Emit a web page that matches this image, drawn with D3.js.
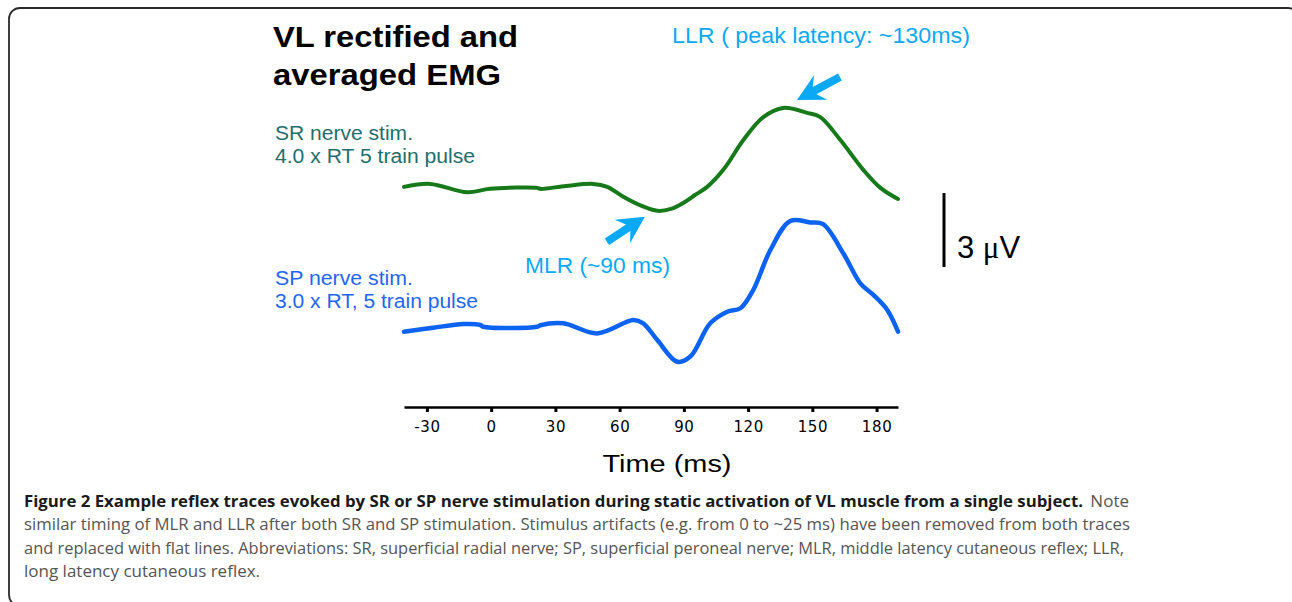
<!DOCTYPE html>
<html>
<head>
<meta charset="utf-8">
<script src="https://cdn.jsdelivr.net/npm/d3@7"></script>
<style>
  body { margin: 0; background: #fff; }
</style>
</head>
<body>
<div id="chart"></div>
<script>
// SR nerve stim. trace (green), time in ms, amplitude in uV above its own baseline
const srTime = [-40.7, -28.5, -11.2, -0.5, 21.5, 23, 35, 47.7, 54.2, 61.7, 70, 77.6, 84, 89.7, 95, 100.9, 108.4, 117.8, 127.1, 136.4, 147.7, 153.7, 163.1, 173.8, 181.8, 190];
const srAmp  = [0.04, 0.16, -0.18, -0.04, 0, -0.04, 0.08, 0.16, 0.04, -0.36, -0.72, -0.93, -0.85, -0.61, -0.3, 0.04, 0.73, 1.94, 2.87, 3.24, 3.04, 2.87, 1.94, 0.73, 0, -0.45];

// SP nerve stim. trace (blue)
const spTime = [-40.7, -27, -13, -5, -3.7, 21.5, 23, 33.6, 49.5, 66.4, 71, 77.6, 86.9, 93, 102.3, 110.3, 116.4, 122.4, 130.4, 139.7, 149, 155, 164.5, 172.4, 178.5, 185, 190];
const spAmp  = [-0.23, -0.07, 0.08, 0.04, -0.03, -0.03, 0.03, 0.11, -0.30, 0.24, 0.11, -0.57, -1.45, -1.24, 0.11, 0.58, 0.72, 1.46, 3.08, 4.26, 4.20, 4.13, 2.94, 1.73, 1.26, 0.65, -0.23];

const tickValues = [-30, 0, 30, 60, 90, 120, 150, 180];
const timeExtent = [-40.7, 190];

// vertical offset of the SR trace above the SP trace (uV)
const srOffset = 5.6;
const scaleBarUV = 3;

// arrow annotations: tip in (ms, uV on SR trace) + tail offset in px
const arrows = [
    { name: "MLR", t: 71.8, v: -1.17, dx: -38, dy: 25 },
    { name: "LLR", t: 142.8, v: 3.56, dx: 43, dy: -23 }
];

const width = 1292, height = 602;
const annColor = "#0aa9f5";

const svg = d3.select("#chart")
    .append("svg")
    .attr("width", width)
    .attr("height", height);

// rounded frame of the figure (runs off the right edge like the original)
svg.append("rect")
    .attr("x", 9).attr("y", 8)
    .attr("width", 1290).attr("height", 598)
    .attr("rx", 11)
    .attr("fill", "none")
    .attr("stroke", "#2b2b2b")
    .attr("stroke-width", 1.8);

const x = d3.scaleLinear().domain(timeExtent).range([404, 898]);
const y = d3.scaleLinear().domain([0, 3]).range([326, 252]);

const line = d3.line()
    .x(d => x(d[0]))
    .y(d => y(d[1]))
    .curve(d3.curveCatmullRom.alpha(0.5));

svg.append("path")
    .datum(srTime.map((t, i) => [t, srAmp[i] + srOffset]))
    .attr("d", line)
    .attr("fill", "none")
    .attr("stroke", "#16791a")
    .attr("stroke-width", 4)
    .attr("stroke-linecap", "round");

svg.append("path")
    .datum(spTime.map((t, i) => [t, spAmp[i]]))
    .attr("d", line)
    .attr("fill", "none")
    .attr("stroke", "#0c63f2")
    .attr("stroke-width", 4.5)
    .attr("stroke-linecap", "round");

// time axis (plain hyphen for negatives, like the original)
const axis = d3.axisBottom(x)
    .tickValues(tickValues)
    .tickFormat(d => String(d))
    .tickSize(5)
    .tickSizeOuter(0)
    .tickPadding(9);

const gx = svg.append("g")
    .attr("transform", "translate(0,407)")
    .call(axis);

gx.select(".domain").attr("stroke", "#000").attr("stroke-width", 2.5);
gx.selectAll(".tick line").attr("stroke", "#000").attr("stroke-width", 3);
gx.selectAll(".tick text")
    .attr("font-family", "DejaVu Sans, sans-serif")
    .attr("font-size", 15)
    .attr("letter-spacing", 0.6)
    .attr("fill", "#000");

// helper for plain labels
function label(txt, px, py, size, color, opts = {}) {
    const t = svg.append("text")
        .attr("x", px).attr("y", py)
        .attr("font-family", opts.family || "Liberation Sans, Arial, sans-serif")
        .attr("font-size", size)
        .attr("font-weight", opts.weight || "normal")
        .attr("fill", color)
        .attr("text-anchor", opts.anchor || "start")
        .text(txt);
    if (opts.len) t.attr("textLength", opts.len).attr("lengthAdjust", "spacingAndGlyphs");
    return t;
}

label("Time (ms)", 667, 472, 23, "#000", { anchor: "middle", len: 129 });

label("VL rectified and", 273, 47, 30, "#000", { weight: "bold", len: 245 });
label("averaged EMG", 273, 85, 30, "#000", { weight: "bold", len: 228 });

label("SR nerve stim.", 275, 140, 20, "#1f6e6e", { len: 138 });
label("4.0 x RT 5 train pulse", 275, 163, 20, "#1f6e6e", { len: 200 });

label("SP nerve stim.", 275, 285, 20, "#1f66f0", { len: 138 });
label("3.0 x RT, 5 train pulse", 275, 308, 20, "#1f66f0", { len: 203 });

label("MLR (~90 ms)", 525, 273, 22, annColor, { len: 145 });
label("LLR ( peak latency: ~130ms)", 672, 43, 22, annColor, { len: 298 });

// arrows pointing at the reflex components of the SR trace
arrows.forEach(a => {
    const tx = x(a.t), ty = y(a.v + srOffset);
    const L = Math.hypot(a.dx, a.dy);
    const ang = Math.atan2(-a.dy, -a.dx) * 180 / Math.PI;
    const pts = [[L, 0], [L - 27, -14], [L - 20, -4], [0, -4], [0, 4], [L - 20, 4], [L - 27, 14]];
    svg.append("polygon")
        .attr("points", pts.map(p => p.join(",")).join(" "))
        .attr("transform", `translate(${tx + a.dx},${ty + a.dy}) rotate(${ang})`)
        .attr("fill", annColor);
});

// 3 uV scale bar
const barBase = 2.39;
svg.append("line")
    .attr("x1", 944).attr("x2", 944)
    .attr("y1", y(barBase)).attr("y2", y(barBase + scaleBarUV))
    .attr("stroke", "#000")
    .attr("stroke-width", 3);

const sb = svg.append("text")
    .attr("x", 957).attr("y", 258)
    .attr("font-family", "Liberation Sans, Arial, sans-serif")
    .attr("font-size", 31)
    .attr("fill", "#000");
sb.append("tspan").text(scaleBarUV + " ");
sb.append("tspan").attr("font-family", "Liberation Serif, serif").text("\u03bc");
sb.append("tspan").text("V");

// figure caption
const capFont = "Open Sans, Noto Sans, sans-serif";
const capBold = svg.append("text")
    .attr("x", 24).attr("y", 507)
    .attr("font-family", capFont)
    .attr("font-size", 17)
    .attr("font-weight", "bold")
    .attr("fill", "#1a1a1a")
    .text("Figure 2 Example reflex traces evoked by SR or SP nerve stimulation during static activation of VL muscle from a single subject.");
// shrink the bold run so it ends where "Note" starts
const boldW = capBold.node().getComputedTextLength();
if (boldW > 1060) capBold.attr("font-size", 17 * 1060 / boldW);

svg.append("text")
    .attr("x", 1129).attr("y", 507)
    .attr("font-family", capFont)
    .attr("font-size", 17)
    .attr("fill", "#555")
    .attr("text-anchor", "end")
    .text("Note");

const capLines = [
    ["similar timing of MLR and LLR after both SR and SP stimulation. Stimulus artifacts (e.g. from 0 to ~25 ms) have been removed from both traces", 1106],
    ["and replaced with flat lines. Abbreviations: SR, superficial radial nerve; SP, superficial peroneal nerve; MLR, middle latency cutaneous reflex; LLR,", 1100],
    ["long latency cutaneous reflex.", 0]
];
capLines.forEach((c, i) => {
    const t = svg.append("text")
        .attr("x", 24).attr("y", 530 + i * 23.5)
        .attr("font-family", capFont)
        .attr("font-size", 17)
        .attr("fill", "#555")
        .text(c[0]);
    if (c[1]) t.attr("textLength", c[1]).attr("lengthAdjust", "spacingAndGlyphs");
});
</script>
</body>
</html>
